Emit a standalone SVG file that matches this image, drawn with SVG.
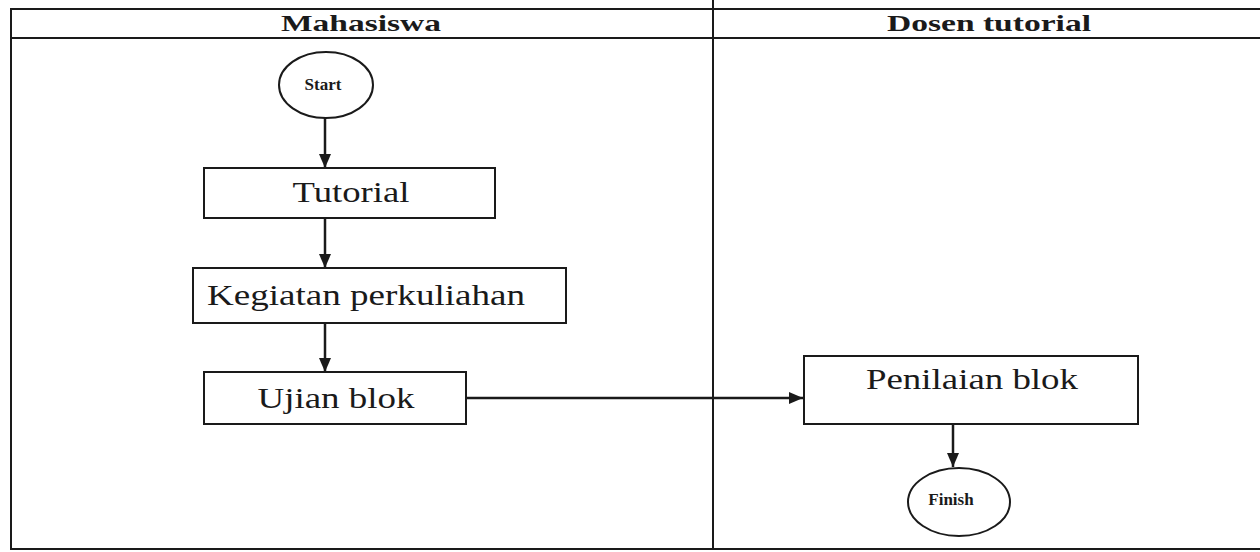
<svg xmlns="http://www.w3.org/2000/svg" width="1260" height="552" viewBox="0 0 1260 552">
<style>
.frame{stroke:#1a1a1a;stroke-width:2;fill:none}
.box{fill:#fff;stroke:#1a1a1a;stroke-width:2}
.lbl{font-family:"Liberation Serif",serif;font-size:30px;fill:#1a1a1a;text-anchor:middle}
.hdr{font-family:"Liberation Serif",serif;font-size:24px;font-weight:bold;fill:#1a1a1a;text-anchor:middle}
.sm{font-family:"Liberation Serif",serif;font-size:17px;font-weight:bold;fill:#1a1a1a;text-anchor:middle}
.conn{stroke:#1a1a1a;stroke-width:2.5;fill:none;marker-end:url(#ah)}
</style>
<defs>
<marker id="ah" viewBox="0 0 14 14" refX="14" refY="7" markerWidth="14" markerHeight="14" markerUnits="userSpaceOnUse" orient="auto">
<path d="M0,1 L14,7 L0,13 Z" fill="#1a1a1a"/>
</marker>
</defs>
<rect width="1260" height="552" fill="#fff"/>
<g id="lanes">
<line class="frame" x1="10" y1="9" x2="1260" y2="9"/>
<line class="frame" x1="10" y1="38" x2="1260" y2="38"/>
<line class="frame" x1="10" y1="549" x2="1260" y2="549"/>
<line class="frame" x1="11" y1="9" x2="11" y2="549"/>
<line class="frame" x1="713" y1="0" x2="713" y2="549"/>
<text class="hdr" x="361" y="31" textLength="160" lengthAdjust="spacingAndGlyphs">Mahasiswa</text>
<text class="hdr" x="989" y="31" textLength="204" lengthAdjust="spacingAndGlyphs">Dosen tutorial</text>
</g>
<g id="connectors">
<line class="conn" x1="325" y1="118" x2="325" y2="168"/>
<line class="conn" x1="325" y1="219" x2="325" y2="268"/>
<line class="conn" x1="325" y1="323" x2="325" y2="372"/>
<line class="conn" x1="466" y1="398" x2="803" y2="398"/>
<line class="conn" x1="953" y1="424" x2="953" y2="467"/>
</g>
<g id="start">
<ellipse class="box" cx="326" cy="85" rx="47" ry="33"/>
<text class="sm" x="323" y="90">Start</text>
</g>
<g id="tutorial">
<rect class="box" x="204" y="168" width="291" height="50"/>
<text class="lbl" x="351" y="202" textLength="117" lengthAdjust="spacingAndGlyphs">Tutorial</text>
</g>
<g id="kegiatan">
<rect class="box" x="193" y="268" width="373" height="55"/>
<text class="lbl" x="366" y="305" textLength="318" lengthAdjust="spacingAndGlyphs">Kegiatan perkuliahan</text>
</g>
<g id="ujian">
<rect class="box" x="204" y="372" width="262" height="52"/>
<text class="lbl" x="336" y="408" textLength="157" lengthAdjust="spacingAndGlyphs">Ujian blok</text>
</g>
<g id="penilaian">
<rect class="box" x="804" y="356" width="334" height="68"/>
<text class="lbl" x="972" y="389" textLength="212" lengthAdjust="spacingAndGlyphs">Penilaian blok</text>
</g>
<g id="finish">
<ellipse class="box" cx="959" cy="502" rx="51" ry="34"/>
<text class="sm" x="951" y="505">Finish</text>
</g>
</svg>
